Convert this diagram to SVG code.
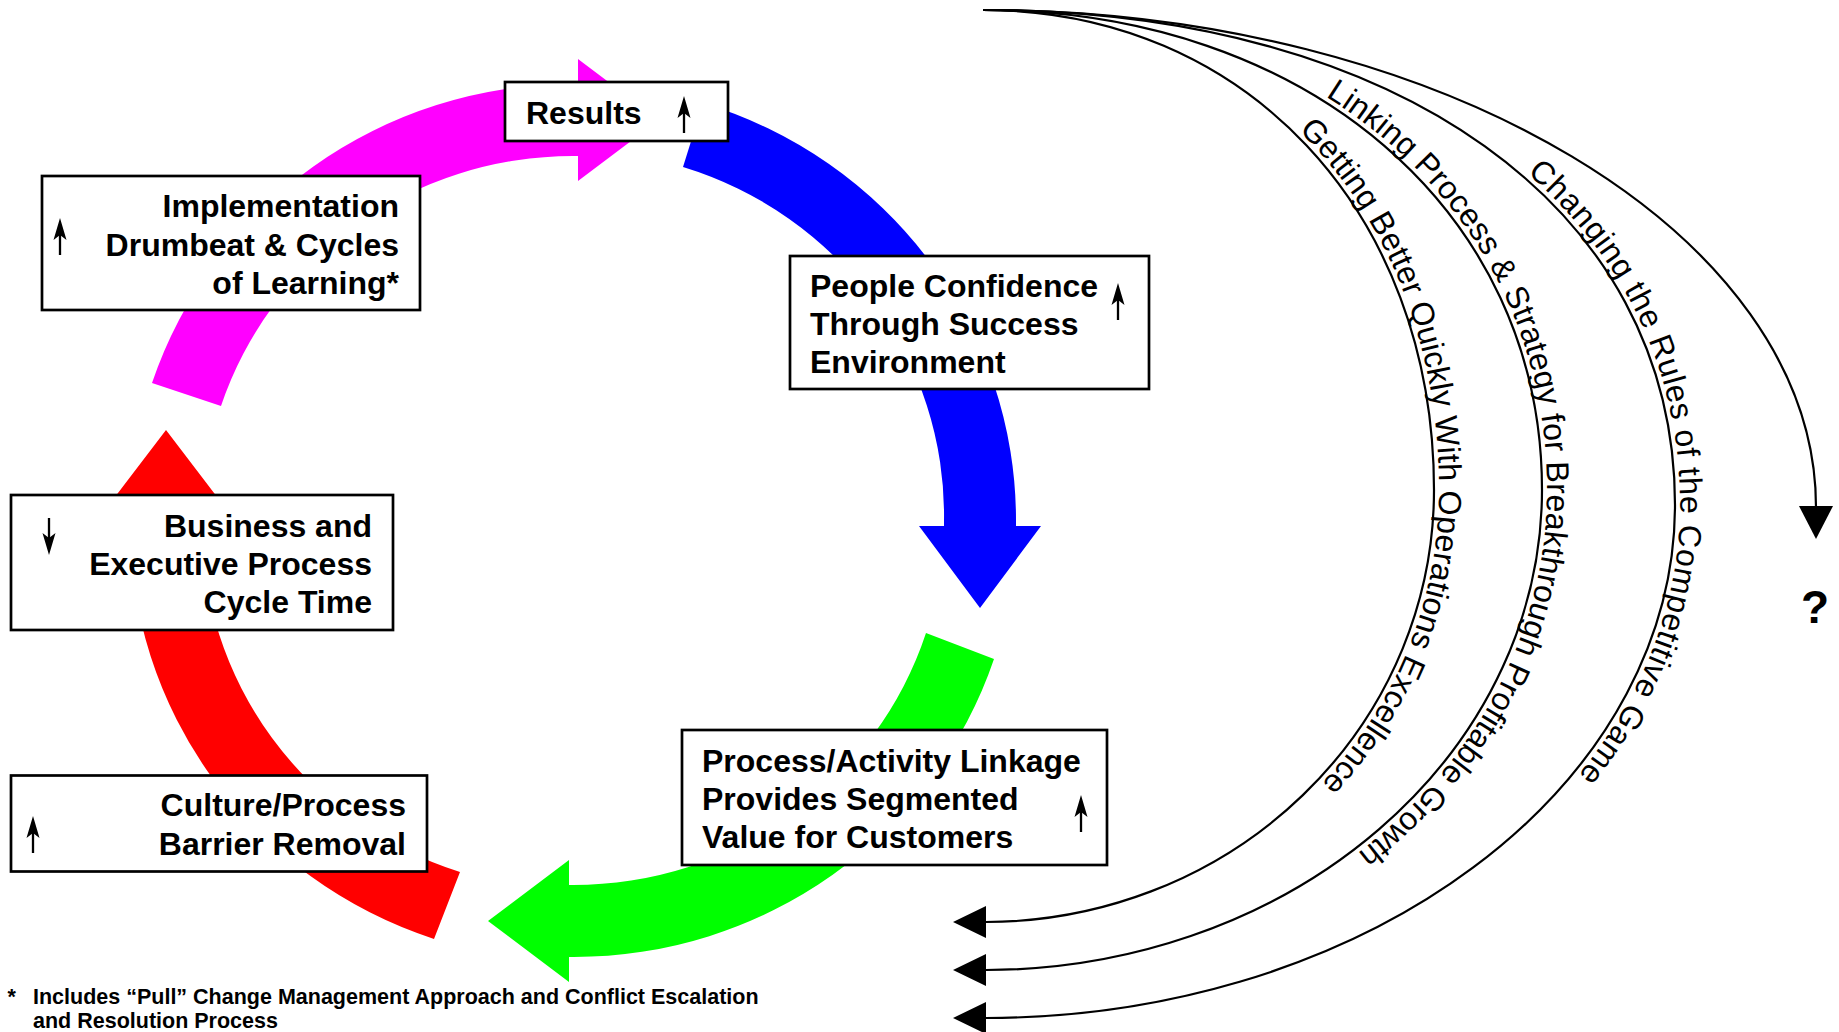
<svg xmlns="http://www.w3.org/2000/svg" width="1839" height="1032" viewBox="0 0 1839 1032">
<defs>
<style>
.box{fill:#fff;stroke:#000;stroke-width:2.7}
.lbl{font-family:"Liberation Sans",Arial,Helvetica,sans-serif;font-weight:bold;font-size:32px;fill:#000}
.curve{fill:none;stroke:#000;stroke-width:2.2}
.head{fill:#000}
.ctxt{font-family:"Liberation Sans",Arial,Helvetica,sans-serif;font-size:32px;fill:#000}
.foot{font-family:"Liberation Sans",Arial,Helvetica,sans-serif;font-weight:bold;font-size:21.5px;fill:#000}
.q{font-family:"Liberation Sans",Arial,Helvetica,sans-serif;font-weight:bold;font-size:46px;fill:#000}
</style>
<g id="upArrow">
<line x1="0" y1="14" x2="0" y2="37" stroke="#000" stroke-width="2.3"/>
<polygon points="0,0 -6.5,22 0,17 6.5,22" fill="#000"/>
</g>
<path id="c1" d="M 983 10 C 1244.6 10 1434 211.6 1434 490 A 449 432 0 0 1 986 922"/>
<path id="c2" d="M 983 10 C 1307.2 10 1542 211.6 1542 490 A 557 480 0 0 1 986 970"/>
<path id="c3" d="M 983 10 C 1398 10 1675 208 1675 505 A 690 513 0 0 1 986 1018"/>
<path id="c4" d="M 983 10 C 1441 10 1816 234 1816 507"/>
</defs>
<rect width="1839" height="1032" fill="#fff"/>

<g id="cycle-arrows">
<path id="arrow-magenta" fill="#FF00FF" d="M 152 383 A 443 436.5 0 0 1 573 84 L 578 84 L 578 59 L 659 120 L 578 181 L 578 156 L 573 156 A 371 364.5 0 0 0 221 406 Z"/>
<path id="arrow-blue" fill="#0000FF" d="M 703 103 A 443 436.5 0 0 1 1016 520.5 L 1016 526 L 1041 526 L 980 608 L 919 526 L 944 526 L 944 520.5 A 371 364.5 0 0 0 683 167 Z"/>
<path id="arrow-green" fill="#00FF00" d="M 994 659 A 443 436.5 0 0 1 573 957 L 569 957 L 569 982 L 488 921 L 569 860 L 569 885 L 573 885 A 371 364.5 0 0 0 926 633 Z"/>
<path id="arrow-red" fill="#FF0000" d="M 434 939 A 443 436.5 0 0 1 130 520.5 L 130 510 L 105 510 L 166 430 L 227 510 L 202 510 L 202 520.5 A 371 364.5 0 0 0 460 872 Z"/>
</g>

<g id="node-results">
<rect class="box" x="505" y="82" width="223" height="59"/>
<text class="lbl" x="526" y="124">Results</text>
<use href="#upArrow" x="684" y="96"/>
</g>

<g id="node-implementation">
<rect class="box" x="42" y="176" width="378" height="134"/>
<text class="lbl" text-anchor="end"><tspan x="399" y="217">Implementation</tspan><tspan x="399" y="256">Drumbeat &amp; Cycles</tspan><tspan x="399" y="294">of Learning*</tspan></text>
<use href="#upArrow" x="60" y="218"/>
</g>

<g id="node-people">
<rect class="box" x="790" y="256" width="359" height="133"/>
<text class="lbl"><tspan x="810" y="297">People Confidence</tspan><tspan x="810" y="335">Through Success</tspan><tspan x="810" y="373">Environment</tspan></text>
<use href="#upArrow" x="1118" y="283"/>
</g>

<g id="node-business">
<rect class="box" x="11" y="495" width="382" height="135"/>
<text class="lbl" text-anchor="end"><tspan x="372" y="537">Business and</tspan><tspan x="372" y="575">Executive Process</tspan><tspan x="372" y="613">Cycle Time</tspan></text>
<use href="#upArrow" transform="translate(49,555) rotate(180)"/>
</g>

<g id="node-culture">
<rect class="box" x="11" y="775.5" width="416" height="96"/>
<text class="lbl" text-anchor="end"><tspan x="406" y="815.5">Culture/Process</tspan><tspan x="406" y="854.5">Barrier Removal</tspan></text>
<use href="#upArrow" x="33" y="816"/>
</g>

<g id="node-process">
<rect class="box" x="682" y="730" width="425" height="135"/>
<text class="lbl"><tspan x="702" y="771.5">Process/Activity Linkage</tspan><tspan x="702" y="809.5">Provides Segmented</tspan><tspan x="702" y="848">Value for Customers</tspan></text>
<use href="#upArrow" x="1081" y="795"/>
</g>

<g id="connectors">
<use href="#c1" class="curve"/>
<use href="#c2" class="curve"/>
<use href="#c3" class="curve"/>
<use href="#c4" class="curve"/>
<polygon class="head" points="953,922 986,906 986,938"/>
<polygon class="head" points="953,970 986,954 986,986"/>
<polygon class="head" points="953,1018 986,1002 986,1034"/>
<polygon class="head" points="1816,539 1799,506 1833,506"/>
<text class="ctxt" dy="-5"><textPath href="#c1" startOffset="701" text-anchor="middle">Getting Better Quickly With Operations Excellence</textPath></text>
<text class="ctxt" dy="-5"><textPath href="#c2" startOffset="800" text-anchor="middle">Linking Process &amp; Strategy for Breakthrough Profitable Growth</textPath></text>
<text class="ctxt" dy="-5" letter-spacing="0.5"><textPath href="#c3" startOffset="910" text-anchor="middle">Changing the Rules of the Competitive Game</textPath></text>
</g>

<g id="node-question">
<text class="q" x="1815" y="623" text-anchor="middle">?</text>
</g>

<g id="footnote">
<text class="foot" x="7.5" y="1004">*</text>
<text class="foot"><tspan x="33" y="1004">Includes “Pull” Change Management Approach and Conflict Escalation</tspan><tspan x="33" y="1028">and Resolution Process</tspan></text>
</g>
</svg>
